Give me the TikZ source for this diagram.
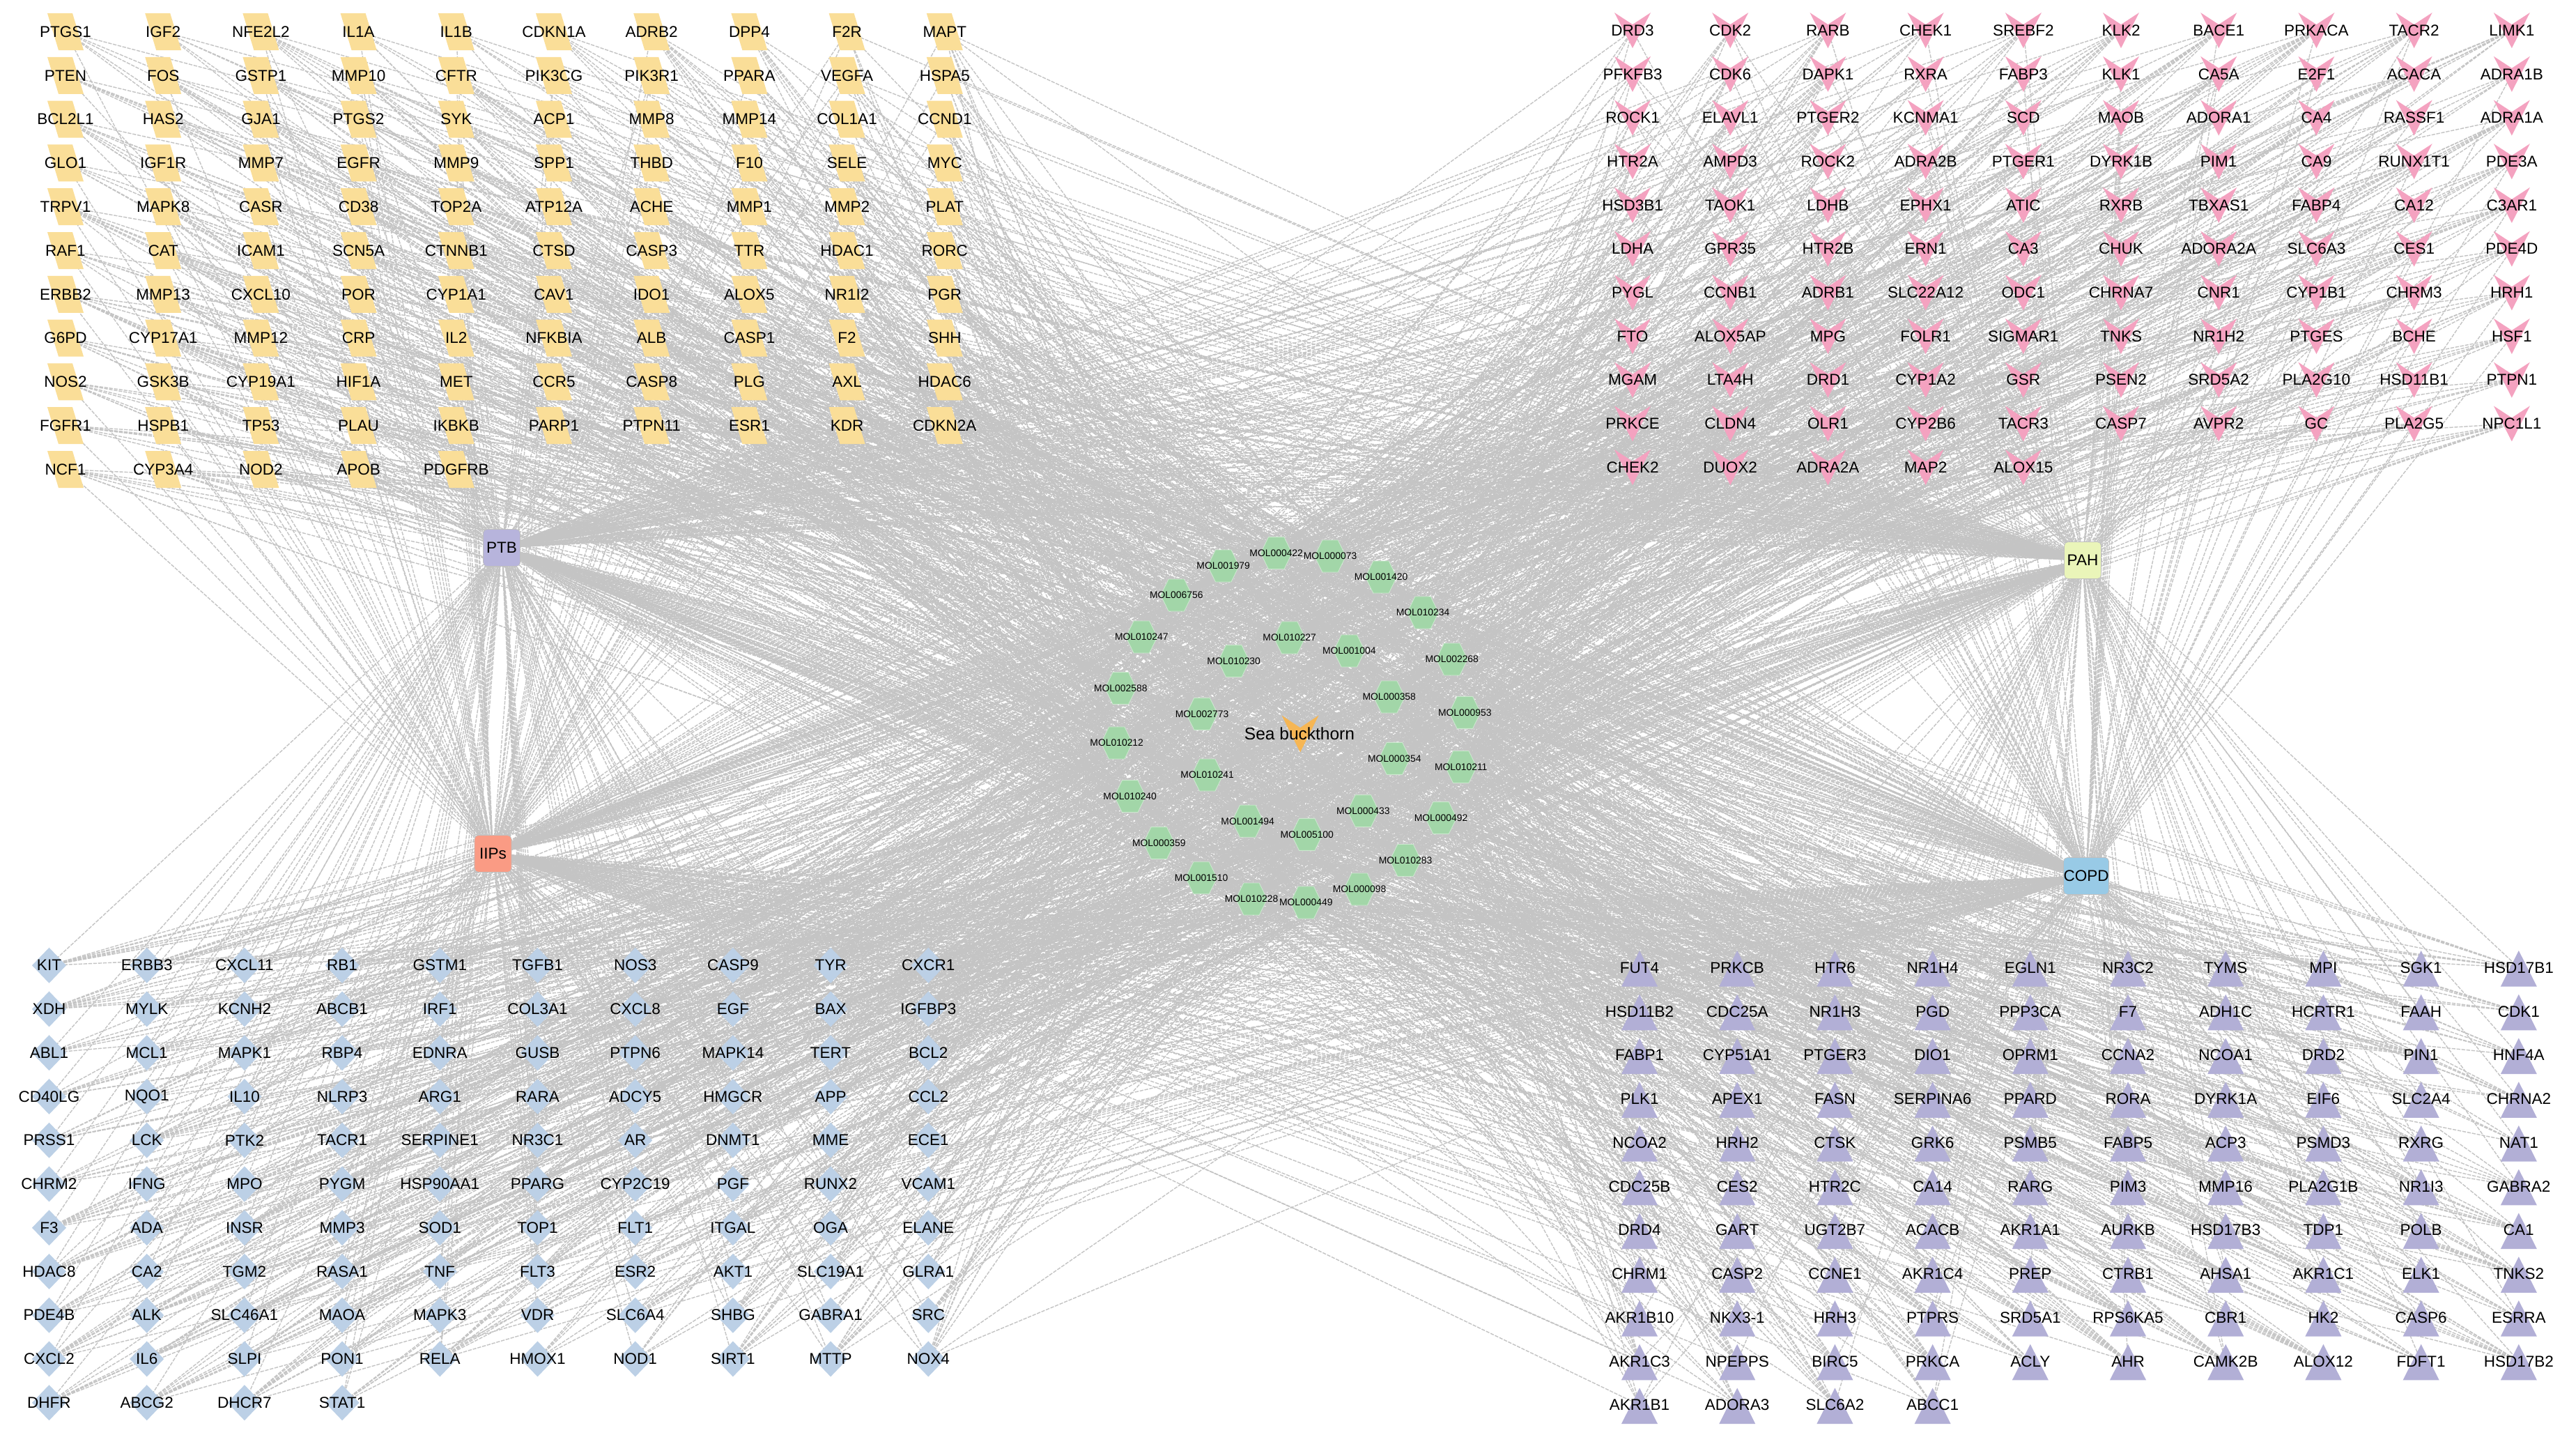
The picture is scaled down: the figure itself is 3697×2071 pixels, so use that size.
\documentclass[tikz,border=0pt]{standalone}
\usepackage{fontspec}
\setmainfont{Liberation Sans}
\usetikzlibrary{backgrounds}
\definecolor{ylw}{RGB}{250,222,152}
\definecolor{pnk}{RGB}{244,162,192}
\definecolor{blu}{RGB}{188,208,230}
\definecolor{pur}{RGB}{178,175,214}
\definecolor{grn}{RGB}{162,214,168}
\definecolor{org}{RGB}{246,182,84}
\definecolor{ptbc}{RGB}{183,180,220}
\definecolor{iipc}{RGB}{250,155,132}
\definecolor{pahc}{RGB}{234,245,185}
\definecolor{copc}{RGB}{152,202,230}
\definecolor{edgec}{RGB}{196,196,196}
\tikzset{
  lab/.style={inner sep=0pt, font=\fontsize{6.4}{7}\selectfont, text=black},
  mlab/.style={inner sep=0pt, font=\fontsize{3.95}{4.5}\selectfont, text=black},
  hub/.style={rounded corners=1.6pt, minimum width=0.53cm, minimum height=0.53cm, inner sep=0pt, draw=white!75!black, line width=0.2pt, font=\fontsize{6.4}{7}\selectfont},
  edge/.style={draw=edgec, line width=0.4pt, dash pattern=on 1.5pt off 0.5pt},
}
\begin{document}
\begin{tikzpicture}[x=0.01cm,y=-0.01cm]
\useasboundingbox (0,0) rectangle (3697,2071);
% ---------- top-left (yellow parallelograms)
\foreach \gn [count=\i from 0] in {PTGS1,IGF2,NFE2L2,IL1A,IL1B,CDKN1A,ADRB2,DPP4,F2R,MAPT,
PTEN,FOS,GSTP1,MMP10,CFTR,PIK3CG,PIK3R1,PPARA,VEGFA,HSPA5,
BCL2L1,HAS2,GJA1,PTGS2,SYK,ACP1,MMP8,MMP14,COL1A1,CCND1,
GLO1,IGF1R,MMP7,EGFR,MMP9,SPP1,THBD,F10,SELE,MYC,
TRPV1,MAPK8,CASR,CD38,TOP2A,ATP12A,ACHE,MMP1,MMP2,PLAT,
RAF1,CAT,ICAM1,SCN5A,CTNNB1,CTSD,CASP3,TTR,HDAC1,RORC,
ERBB2,MMP13,CXCL10,POR,CYP1A1,CAV1,IDO1,ALOX5,NR1I2,PGR,
G6PD,CYP17A1,MMP12,CRP,IL2,NFKBIA,ALB,CASP1,F2,SHH,
NOS2,GSK3B,CYP19A1,HIF1A,MET,CCR5,CASP8,PLG,AXL,HDAC6,
FGFR1,HSPB1,TP53,PLAU,IKBKB,PARP1,PTPN11,ESR1,KDR,CDKN2A,
NCF1,CYP3A4,NOD2,APOB,PDGFRB}{
  \pgfmathsetmacro\x{94+140.2*mod(\i,10)}
  \pgfmathsetmacro\y{45.5+62.8*int(\i/10)}
  \fill[ylw] (\x,\y) ++(-26,-26.5) -- ++(36,0) -- ++(16,53) -- ++(-36,0) -- cycle;
  \node[lab] (g1-\i) at (\x,\y) {\gn};
}
% ---------- top-right (pink V)
\foreach \gn [count=\i from 0] in {DRD3,CDK2,RARB,CHEK1,SREBF2,KLK2,BACE1,PRKACA,TACR2,LIMK1,
PFKFB3,CDK6,DAPK1,RXRA,FABP3,KLK1,CA5A,E2F1,ACACA,ADRA1B,
ROCK1,ELAVL1,PTGER2,KCNMA1,SCD,MAOB,ADORA1,CA4,RASSF1,ADRA1A,
HTR2A,AMPD3,ROCK2,ADRA2B,PTGER1,DYRK1B,PIM1,CA9,RUNX1T1,PDE3A,
HSD3B1,TAOK1,LDHB,EPHX1,ATIC,RXRB,TBXAS1,FABP4,CA12,C3AR1,
LDHA,GPR35,HTR2B,ERN1,CA3,CHUK,ADORA2A,SLC6A3,CES1,PDE4D,
PYGL,CCNB1,ADRB1,SLC22A12,ODC1,CHRNA7,CNR1,CYP1B1,CHRM3,HRH1,
FTO,ALOX5AP,MPG,FOLR1,SIGMAR1,TNKS,NR1H2,PTGES,BCHE,HSF1,
MGAM,LTA4H,DRD1,CYP1A2,GSR,PSEN2,SRD5A2,PLA2G10,HSD11B1,PTPN1,
PRKCE,CLDN4,OLR1,CYP2B6,TACR3,CASP7,AVPR2,GC,PLA2G5,NPC1L1,
CHEK2,DUOX2,ADRA2A,MAP2,ALOX15}{
  \pgfmathsetmacro\x{2343+140.2*mod(\i,10)}
  \pgfmathsetmacro\y{43.6+62.7*int(\i/10)}
  \fill[pnk] (\x,\y) ++(-26,-25.5) -- ++(26,17) -- ++(26,-17) -- ++(-26,51) -- cycle;
  \node[lab] (g2-\i) at (\x,\y) {\gn};
}
% ---------- bottom-left (blue diamonds)
\foreach \gn [count=\i from 0] in {KIT,ERBB3,CXCL11,RB1,GSTM1,TGFB1,NOS3,CASP9,TYR,CXCR1,
XDH,MYLK,KCNH2,ABCB1,IRF1,COL3A1,CXCL8,EGF,BAX,IGFBP3,
ABL1,MCL1,MAPK1,RBP4,EDNRA,GUSB,PTPN6,MAPK14,TERT,BCL2,
CD40LG,NQO1,IL10,NLRP3,ARG1,RARA,ADCY5,HMGCR,APP,CCL2,
PRSS1,LCK,PTK2,TACR1,SERPINE1,NR3C1,AR,DNMT1,MME,ECE1,
CHRM2,IFNG,MPO,PYGM,HSP90AA1,PPARG,CYP2C19,PGF,RUNX2,VCAM1,
F3,ADA,INSR,MMP3,SOD1,TOP1,FLT1,ITGAL,OGA,ELANE,
HDAC8,CA2,TGM2,RASA1,TNF,FLT3,ESR2,AKT1,SLC19A1,GLRA1,
PDE4B,ALK,SLC46A1,MAOA,MAPK3,VDR,SLC6A4,SHBG,GABRA1,SRC,
CXCL2,IL6,SLPI,PON1,RELA,HMOX1,NOD1,SIRT1,MTTP,NOX4,
DHFR,ABCG2,DHCR7,STAT1}{
  \pgfmathsetmacro\x{70.5+140.2*mod(\i,10)}
  \pgfmathsetmacro\y{1385.2+62.75*int(\i/10)}
  \fill[blu] (\x,\y) ++(0,-25.5) -- ++(24.5,25.5) -- ++(-24.5,25.5) -- ++(-24.5,-25.5) -- cycle;
  \node[lab] (g3-\i) at (\x,\y) {\gn};
}
% ---------- bottom-right (purple triangles)
\foreach \gn [count=\i from 0] in {FUT4,PRKCB,HTR6,NR1H4,EGLN1,NR3C2,TYMS,MPI,SGK1,HSD17B1,
HSD11B2,CDC25A,NR1H3,PGD,PPP3CA,F7,ADH1C,HCRTR1,FAAH,CDK1,
FABP1,CYP51A1,PTGER3,DIO1,OPRM1,CCNA2,NCOA1,DRD2,PIN1,HNF4A,
PLK1,APEX1,FASN,SERPINA6,PPARD,RORA,DYRK1A,EIF6,SLC2A4,CHRNA2,
NCOA2,HRH2,CTSK,GRK6,PSMB5,FABP5,ACP3,PSMD3,RXRG,NAT1,
CDC25B,CES2,HTR2C,CA14,RARG,PIM3,MMP16,PLA2G1B,NR1I3,GABRA2,
DRD4,GART,UGT2B7,ACACB,AKR1A1,AURKB,HSD17B3,TDP1,POLB,CA1,
CHRM1,CASP2,CCNE1,AKR1C4,PREP,CTRB1,AHSA1,AKR1C1,ELK1,TNKS2,
AKR1B10,NKX3-1,HRH3,PTPRS,SRD5A1,RPS6KA5,CBR1,HK2,CASP6,ESRRA,
AKR1C3,NPEPPS,BIRC5,PRKCA,ACLY,AHR,CAMK2B,ALOX12,FDFT1,HSD17B2,
AKR1B1,ADORA3,SLC6A2,ABCC1}{
  \pgfmathsetmacro\x{2353+140.2*mod(\i,10)}
  \pgfmathsetmacro\y{1388.5+62.75*int(\i/10)}
  \fill[pur] (\x,\y) ++(0,-24.5) -- ++(26,51.5) -- ++(-52,0) -- cycle;
  \node[lab] (g4-\i) at (\x,\y) {\gn};
}
% ---------- molecules (green hexagons)
\foreach \mn/\x/\y [count=\j from 0] in {MOL001979/1755.7/812,MOL000422/1831.7/793.6,MOL000073/1909/798,
MOL006756/1688.3/854,MOL010247/1638.3/914,MOL010227/1850.7/915,MOL001004/1936.3/934,
MOL010230/1770.7/948.6,MOL002588/1608.3/987.6,MOL002773/1725/1024.3,MOL010212/1602.7/1066,
MOL010241/1732.7/1112,MOL010240/1621.7/1142.6,MOL001494/1790.7/1178.2,MOL005100/1875.7/1197.3,
MOL000359/1663.3/1209.6,MOL001510/1724/1259.7,MOL010228/1796/1290,MOL000449/1874.3/1295,
MOL000098/1951/1276,MOL001420/1982/828,MOL010234/2042/879,MOL002268/2083.7/946,
MOL000358/1993.7/1000,MOL000953/2102.3/1022.4,MOL000354/2001.3/1088.3,MOL010211/2096.7/1100.5,
MOL000433/1956.3/1163.6,MOL000492/2068/1173.6,MOL010283/2017/1234.5}{
  \filldraw[fill=grn, draw=grn!55!white, line width=0.25pt] (\x,\y) ++(-22.5,0) -- ++(11.25,-23) -- ++(22.5,0) -- ++(11.25,23) -- ++(-11.25,23) -- ++(-22.5,0) -- cycle;
  \node[mlab] (m\j) at (\x,\y) {\mn};
}
% ---------- herb
\fill[org] (1866,1053) ++(-26.5,-26.5) -- ++(26.5,17.7) -- ++(26.5,-17.7) -- ++(-26.5,53) -- cycle;
\node[inner sep=0pt, font=\fontsize{6.97}{8}\selectfont] (SB) at (1865,1053) {Sea buckthorn};
% ---------- diseases
\node[hub, fill=ptbc] (PTB) at (720,786) {PTB};
\node[hub, fill=iipc] (IIPs) at (707.5,1225) {IIPs};
\node[hub, fill=pahc] (PAH) at (2989,804) {PAH};
\node[hub, fill=copc] (COPD) at (2994,1257) {COPD};
% ---------- edges
\begin{pgfonlayer}{background}
\fill[white] (0,0) rectangle (3697,2071);
\pgfmathsetseed{7}
\foreach \g/\N in {1/104,2/104,3/103,4/103}{
  \foreach \i in {0,...,\N}{
    \foreach \h in {PTB,IIPs,PAH,COPD}{
      \pgfmathtruncatemacro\hit{rnd<0.6}
      \ifnum\hit=1 \draw[edge] (g\g-\i.center) -- (\h.center);\fi
    }
    \pgfmathtruncatemacro\k{random(3,8)}
    \foreach \t in {1,...,\k}{
      \pgfmathtruncatemacro\mj{random(0,29)}
      \draw[edge] (g\g-\i.center) -- (m\mj.center);
    }
  }
}
\foreach \j in {0,...,29} \draw[edge] (SB.center) -- (m\j.center);
\end{pgfonlayer}
\end{tikzpicture}
\end{document}
